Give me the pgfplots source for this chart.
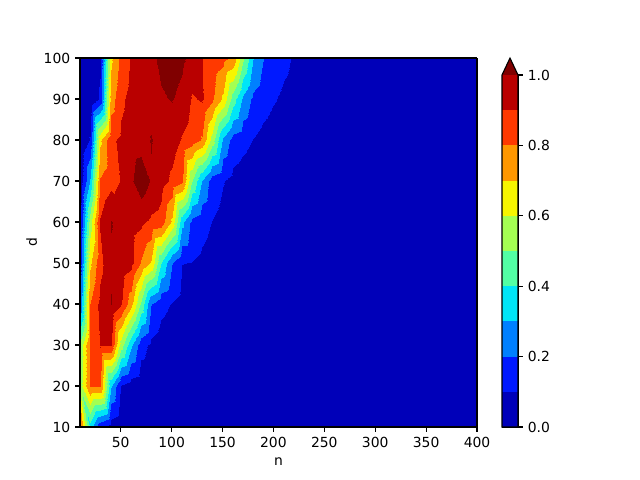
\documentclass[border=0pt]{standalone}
\usepackage{pgfplots}
\pgfplotsset{compat=1.18}
\usepackage{fontspec}
\setmainfont{DejaVu Sans}
\definecolor{c0}{rgb}{0,0,0.727}
\definecolor{c1}{rgb}{0,0.1,1}
\definecolor{c2}{rgb}{0,0.5,1}
\definecolor{c3}{rgb}{0,0.9,0.968}
\definecolor{c4}{rgb}{0.323,1,0.645}
\definecolor{c5}{rgb}{0.645,1,0.323}
\definecolor{c6}{rgb}{0.968,0.963,0}
\definecolor{c7}{rgb}{1,0.593,0}
\definecolor{c8}{rgb}{1,0.222,0}
\definecolor{c9}{rgb}{0.727,0,0}
\definecolor{c10}{rgb}{0.5,0,0}
\pgfplotsset{colormap={cf}{rgb=(0,0,0.727) rgb=(0,0.1,1) rgb=(0,0.5,1) rgb=(0,0.9,0.968) rgb=(0.323,1,0.645) rgb=(0.645,1,0.323) rgb=(0.968,0.963,0) rgb=(1,0.593,0) rgb=(1,0.222,0) rgb=(0.727,0,0) rgb=(0.5,0,0)}}
\begin{document}
\begin{tikzpicture}
\path[use as bounding box] (-57.6pt,-38.16pt) rectangle (403.2pt,307.44pt);
\begin{axis}[at={(0pt,0pt)}, anchor=south west, scale only axis,
  width=285.84pt, height=265.68pt, view={0}{90},
  xmin=10, xmax=400, ymin=10, ymax=100, enlargelimits=false,
  xtick={50,100,150,200,250,300,350,400}, ytick={10,20,30,40,50,60,70,80,90,100},
  tick align=outside, tick pos=left, major tick length=3.5pt,
  tick style={black, line width=0.8pt}, axis line style={line width=0.8pt},
  xlabel={n}, ylabel={d},
  colormap name=cf, colormap access=piecewise constant,
  point meta min=0, point meta max=1.1, axis on top,
  /pgf/number format/assume math mode=true,
  ticklabel style={font=\fontsize{10}{12}\selectfont},
  label style={font=\fontsize{10}{12}\selectfont},
  xlabel style={yshift=-1pt}, ylabel style={yshift=-2pt}]
\addplot3[surf, shader=interp, mesh/rows=10, mesh/cols=40] table[row sep=\\] {
n d v\\
10 10 0.85\\ 20 10 0.35\\ 30 10 0.12\\ 40 10 0.05\\ 50 10 0.02\\ 60 10 0.01\\ 70 10 0.01\\ 80 10 0\\ 90 10 0\\ 100 10 0\\ 110 10 0\\ 120 10 0\\ 130 10 0\\ 140 10 0\\ 150 10 0\\ 160 10 0\\ 170 10 0\\ 180 10 0\\ 190 10 0\\ 200 10 0\\ 210 10 0\\ 220 10 0\\ 230 10 0\\ 240 10 0\\ 250 10 0\\ 260 10 0\\ 270 10 0\\ 280 10 0\\ 290 10 0\\ 300 10 0\\ 310 10 0\\ 320 10 0\\ 330 10 0\\ 340 10 0\\ 350 10 0\\ 360 10 0\\ 370 10 0\\ 380 10 0\\ 390 10 0\\ 400 10 0\\
10 20 0.55\\ 20 20 0.81\\ 30 20 0.81\\ 40 20 0.31\\ 50 20 0.09\\ 60 20 0.05\\ 70 20 0.03\\ 80 20 0.02\\ 90 20 0.01\\ 100 20 0.01\\ 110 20 0\\ 120 20 0\\ 130 20 0\\ 140 20 0\\ 150 20 0\\ 160 20 0\\ 170 20 0\\ 180 20 0\\ 190 20 0\\ 200 20 0\\ 210 20 0\\ 220 20 0\\ 230 20 0\\ 240 20 0\\ 250 20 0\\ 260 20 0\\ 270 20 0\\ 280 20 0\\ 290 20 0\\ 300 20 0\\ 310 20 0\\ 320 20 0\\ 330 20 0\\ 340 20 0\\ 350 20 0\\ 360 20 0\\ 370 20 0\\ 380 20 0\\ 390 20 0\\ 400 20 0\\
10 30 0.52\\ 20 30 0.82\\ 30 30 0.905\\ 40 30 0.902\\ 50 30 0.55\\ 60 30 0.32\\ 70 30 0.14\\ 80 30 0.08\\ 90 30 0.05\\ 100 30 0.03\\ 110 30 0.02\\ 120 30 0.01\\ 130 30 0\\ 140 30 0\\ 150 30 0\\ 160 30 0\\ 170 30 0\\ 180 30 0\\ 190 30 0\\ 200 30 0\\ 210 30 0\\ 220 30 0\\ 230 30 0\\ 240 30 0\\ 250 30 0\\ 260 30 0\\ 270 30 0\\ 280 30 0\\ 290 30 0\\ 300 30 0\\ 310 30 0\\ 320 30 0\\ 330 30 0\\ 340 30 0\\ 350 30 0\\ 360 30 0\\ 370 30 0\\ 380 30 0\\ 390 30 0\\ 400 30 0\\
10 40 0.20\\ 20 40 0.80\\ 30 40 0.93\\ 40 40 1.005\\ 50 40 0.91\\ 60 40 0.74\\ 70 40 0.48\\ 80 40 0.205\\ 90 40 0.13\\ 100 40 0.095\\ 110 40 0.07\\ 120 40 0.05\\ 130 40 0.03\\ 140 40 0.02\\ 150 40 0.01\\ 160 40 0\\ 170 40 0\\ 180 40 0\\ 190 40 0\\ 200 40 0\\ 210 40 0\\ 220 40 0\\ 230 40 0\\ 240 40 0\\ 250 40 0\\ 260 40 0\\ 270 40 0\\ 280 40 0\\ 290 40 0\\ 300 40 0\\ 310 40 0\\ 320 40 0\\ 330 40 0\\ 340 40 0\\ 350 40 0\\ 360 40 0\\ 370 40 0\\ 380 40 0\\ 390 40 0\\ 400 40 0\\
10 50 0.12\\ 20 50 0.68\\ 30 50 0.87\\ 40 50 0.985\\ 50 50 0.97\\ 60 50 0.93\\ 70 50 0.79\\ 80 50 0.69\\ 90 50 0.40\\ 100 50 0.205\\ 110 50 0.102\\ 120 50 0.098\\ 130 50 0.08\\ 140 50 0.06\\ 150 50 0.04\\ 160 50 0.03\\ 170 50 0.02\\ 180 50 0.01\\ 190 50 0\\ 200 50 0\\ 210 50 0\\ 220 50 0\\ 230 50 0\\ 240 50 0\\ 250 50 0\\ 260 50 0\\ 270 50 0\\ 280 50 0\\ 290 50 0\\ 300 50 0\\ 310 50 0\\ 320 50 0\\ 330 50 0\\ 340 50 0\\ 350 50 0\\ 360 50 0\\ 370 50 0\\ 380 50 0\\ 390 50 0\\ 400 50 0\\
10 60 0.08\\ 20 60 0.55\\ 30 60 0.91\\ 40 60 1.005\\ 50 60 0.97\\ 60 60 0.95\\ 70 60 0.92\\ 80 60 0.88\\ 90 60 0.86\\ 100 60 0.68\\ 110 60 0.33\\ 120 60 0.17\\ 130 60 0.13\\ 140 60 0.098\\ 150 60 0.07\\ 160 60 0.05\\ 170 60 0.03\\ 180 60 0.02\\ 190 60 0.01\\ 200 60 0\\ 210 60 0\\ 220 60 0\\ 230 60 0\\ 240 60 0\\ 250 60 0\\ 260 60 0\\ 270 60 0\\ 280 60 0\\ 290 60 0\\ 300 60 0\\ 310 60 0\\ 320 60 0\\ 330 60 0\\ 340 60 0\\ 350 60 0\\ 360 60 0\\ 370 60 0\\ 380 60 0\\ 390 60 0\\ 400 60 0\\
10 70 0.02\\ 20 70 0.31\\ 30 70 0.81\\ 40 70 0.87\\ 50 70 0.905\\ 60 70 0.985\\ 70 70 1.06\\ 80 70 0.99\\ 90 70 0.94\\ 100 70 0.88\\ 110 70 0.82\\ 120 70 0.50\\ 130 70 0.295\\ 140 70 0.15\\ 150 70 0.105\\ 160 70 0.07\\ 170 70 0.05\\ 180 70 0.03\\ 190 70 0.02\\ 200 70 0.01\\ 210 70 0\\ 220 70 0\\ 230 70 0\\ 240 70 0\\ 250 70 0\\ 260 70 0\\ 270 70 0\\ 280 70 0\\ 290 70 0\\ 300 70 0\\ 310 70 0\\ 320 70 0\\ 330 70 0\\ 340 70 0\\ 350 70 0\\ 360 70 0\\ 370 70 0\\ 380 70 0\\ 390 70 0\\ 400 70 0\\
10 80 0\\ 20 80 0.11\\ 30 80 0.68\\ 40 80 0.88\\ 50 80 0.92\\ 60 80 0.95\\ 70 80 0.96\\ 80 80 1.005\\ 90 80 0.97\\ 100 80 0.94\\ 110 80 0.89\\ 120 80 0.85\\ 130 80 0.79\\ 140 80 0.56\\ 150 80 0.28\\ 160 80 0.16\\ 170 80 0.13\\ 180 80 0.098\\ 190 80 0.07\\ 200 80 0.05\\ 210 80 0.03\\ 220 80 0.02\\ 230 80 0.01\\ 240 80 0\\ 250 80 0\\ 260 80 0\\ 270 80 0\\ 280 80 0\\ 290 80 0\\ 300 80 0\\ 310 80 0\\ 320 80 0\\ 330 80 0\\ 340 80 0\\ 350 80 0\\ 360 80 0\\ 370 80 0\\ 380 80 0\\ 390 80 0\\ 400 80 0\\
10 90 0\\ 20 90 0\\ 30 90 0.12\\ 40 90 0.75\\ 50 90 0.88\\ 60 90 0.93\\ 70 90 0.96\\ 80 90 0.97\\ 90 90 0.99\\ 100 90 1.005\\ 110 90 0.97\\ 120 90 0.89\\ 130 90 0.91\\ 140 90 0.82\\ 150 90 0.68\\ 160 90 0.45\\ 170 90 0.28\\ 180 90 0.18\\ 190 90 0.14\\ 200 90 0.11\\ 210 90 0.08\\ 220 90 0.06\\ 230 90 0.04\\ 240 90 0.03\\ 250 90 0.02\\ 260 90 0.01\\ 270 90 0\\ 280 90 0\\ 290 90 0\\ 300 90 0\\ 310 90 0\\ 320 90 0\\ 330 90 0\\ 340 90 0\\ 350 90 0\\ 360 90 0\\ 370 90 0\\ 380 90 0\\ 390 90 0\\ 400 90 0\\
10 100 0\\ 20 100 0\\ 30 100 0.08\\ 40 100 0.68\\ 50 100 0.83\\ 60 100 0.91\\ 70 100 0.95\\ 80 100 0.98\\ 90 100 1.02\\ 100 100 1.05\\ 110 100 1.02\\ 120 100 0.97\\ 130 100 0.905\\ 140 100 0.87\\ 150 100 0.83\\ 160 100 0.78\\ 170 100 0.52\\ 180 100 0.305\\ 190 100 0.205\\ 200 100 0.16\\ 210 100 0.125\\ 220 100 0.09\\ 230 100 0.07\\ 240 100 0.05\\ 250 100 0.04\\ 260 100 0.03\\ 270 100 0.02\\ 280 100 0.01\\ 290 100 0\\ 300 100 0\\ 310 100 0\\ 320 100 0\\ 330 100 0\\ 340 100 0\\ 350 100 0\\ 360 100 0\\ 370 100 0\\ 380 100 0\\ 390 100 0\\ 400 100 0\\
};
\end{axis}
\begin{axis}[at={(303.84pt,0pt)}, anchor=south west, scale only axis,
  width=11.52pt, height=253.44pt,
  xmin=0, xmax=1, ymin=0, ymax=1, clip=false,
  axis x line*=bottom, axis y line*=right, xtick=\empty,
  ytick={0,0.2,0.4,0.6,0.8,1.0},
  tick align=outside, major tick length=3.5pt,
  tick style={black, line width=0.8pt}, axis line style={line width=0.8pt},
  /pgf/number format/assume math mode=true,
  yticklabel style={font=\fontsize{10}{12}\selectfont, /pgf/number format/.cd, fixed, fixed zerofill, precision=1}]
\addplot[fill=c0, draw=none] coordinates {(0,0) (1,0) (1,0.1) (0,0.1)} -- cycle;
\addplot[fill=c1, draw=none] coordinates {(0,0.1) (1,0.1) (1,0.2) (0,0.2)} -- cycle;
\addplot[fill=c2, draw=none] coordinates {(0,0.2) (1,0.2) (1,0.3) (0,0.3)} -- cycle;
\addplot[fill=c3, draw=none] coordinates {(0,0.3) (1,0.3) (1,0.4) (0,0.4)} -- cycle;
\addplot[fill=c4, draw=none] coordinates {(0,0.4) (1,0.4) (1,0.5) (0,0.5)} -- cycle;
\addplot[fill=c5, draw=none] coordinates {(0,0.5) (1,0.5) (1,0.6) (0,0.6)} -- cycle;
\addplot[fill=c6, draw=none] coordinates {(0,0.6) (1,0.6) (1,0.7) (0,0.7)} -- cycle;
\addplot[fill=c7, draw=none] coordinates {(0,0.7) (1,0.7) (1,0.8) (0,0.8)} -- cycle;
\addplot[fill=c8, draw=none] coordinates {(0,0.8) (1,0.8) (1,0.9) (0,0.9)} -- cycle;
\addplot[fill=c9, draw=none] coordinates {(0,0.9) (1,0.9) (1,1) (0,1)} -- cycle;
\addplot[fill=c10, draw=none] coordinates {(0,1) (1,1) (0.5,1.048)} -- cycle;
\addplot[draw=black, line width=0.8pt, fill=none] coordinates {(0,0) (1,0) (1,1) (0.5,1.048) (0,1)} -- cycle;
\end{axis}
\end{tikzpicture}
\end{document}
